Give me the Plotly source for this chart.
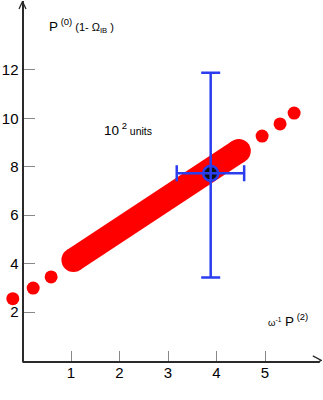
import plotly.graph_objs as go

# Chart values
dots_x = [-0.2, 0.22, 0.59, 4.94, 5.31, 5.6]
dots_y = [2.55, 2.99, 3.45, 9.27, 9.77, 10.22]

band_x = [1.05, 4.46]
band_y = [4.15, 8.65]

pt_x = [3.88]
pt_y = [7.73]
err_y_plus = [4.16]
err_y_minus = [4.3]
err_x_plus = [0.69]
err_x_minus = [0.70]

x_ticks = [1, 2, 3, 4, 5]
y_ticks = [2, 4, 6, 8, 10, 12]

red = '#ff0000'
blue = '#2a3ef0'
axis_col = '#2a2a2a'
font_name = 'Liberation Sans, Arial, sans-serif'

x_range = [-0.464, 6.175]
y_range = [-0.066, 14.85]
x_axis_end = 6.13

fig = go.Figure()

# thick band with round ends
fig.add_trace(go.Scatter(
    x=band_x, y=band_y,
    mode='lines+markers',
    line=dict(color=red, width=24),
    marker=dict(color=red, size=24),
    cliponaxis=False,
    showlegend=False))

# separate dots
fig.add_trace(go.Scatter(
    x=dots_x, y=dots_y,
    mode='markers',
    marker=dict(color=red, size=13),
    cliponaxis=False,
    showlegend=False))

# measured point with error bars
fig.add_trace(go.Scatter(
    x=pt_x, y=pt_y,
    mode='markers',
    marker=dict(symbol='circle-cross', size=15, color='#111111',
                line=dict(color=blue, width=2.5)),
    error_y=dict(type='data', symmetric=False, array=err_y_plus,
                 arrayminus=err_y_minus, color=blue, thickness=2.5, width=9.5),
    error_x=dict(type='data', symmetric=False, array=err_x_plus,
                 arrayminus=err_x_minus, color=blue, thickness=2.5, width=8),
    cliponaxis=False,
    showlegend=False))

annotations = [
    dict(text='P<sup> (0)</sup><span style="font-size:11px"> (1- Ω<sub>IB</sub> )</span>',
         x=47, y=25),
    dict(text='10<sup> 2</sup><span style="font-size:10.5px"> units</span>',
         x=102, y=129),
    dict(text='<span style="font-size:9.5px">ω<sup>-1</sup></span> P<sup> (2)</sup>',
         x=266, y=320),
]
plot_w = 323 - 0 - 1
plot_h = 400 - 1 - 38
for a in annotations:
    a.update(xref='paper', yref='paper', showarrow=False,
             xanchor='left', yanchor='middle',
             x=a['x'] / plot_w, y=(362 - a['y']) / plot_h,
             font=dict(size=13.5))

# x axis line and arrow heads
shapes = [
    dict(type='line', xref='x', yref='paper', x0=0, x1=x_axis_end, y0=0, y1=0,
         line=dict(color=axis_col, width=2)),
    dict(type='path', xref='x', yref='y', xsizemode='pixel', ysizemode='pixel',
         xanchor=0, yanchor=y_range[1], path='M -3.5,-8 L 0,-0.5 L 3.5,-8',
         line=dict(color=axis_col, width=1.3)),
    dict(type='path', xref='x', yref='y', xsizemode='pixel', ysizemode='pixel',
         xanchor=x_axis_end, yanchor=0, path='M -7,4.5 L 1.5,0 L -7,-4.5',
         line=dict(color=axis_col, width=1.3)),
]

fig.update_layout(
    width=323, height=400,
    margin=dict(l=0, r=1, t=1, b=38),
    paper_bgcolor='white',
    plot_bgcolor='white',
    font=dict(family=font_name, size=15, color='black'),
    annotations=annotations,
    shapes=shapes,
    xaxis=dict(range=x_range, tickvals=x_ticks, ticks='inside', ticklen=11,
               tickcolor='#888888', tickwidth=1, showgrid=False, zeroline=False,
               showline=False, automargin=False, tickfont=dict(size=15)),
    yaxis=dict(range=y_range, tickvals=y_ticks, ticks='inside', ticklen=11,
               tickcolor='#888888', tickwidth=1, showgrid=False, zeroline=False,
               showline=True, linecolor=axis_col, linewidth=2,
               anchor='free', position=22.5 / plot_w, automargin=False,
               tickfont=dict(size=15)),
)

# page body margin would shift the figure inside the window
fig.write_html("out.html", config={'displayModeBar': False},
               post_script="document.body.style.margin = '0';")
